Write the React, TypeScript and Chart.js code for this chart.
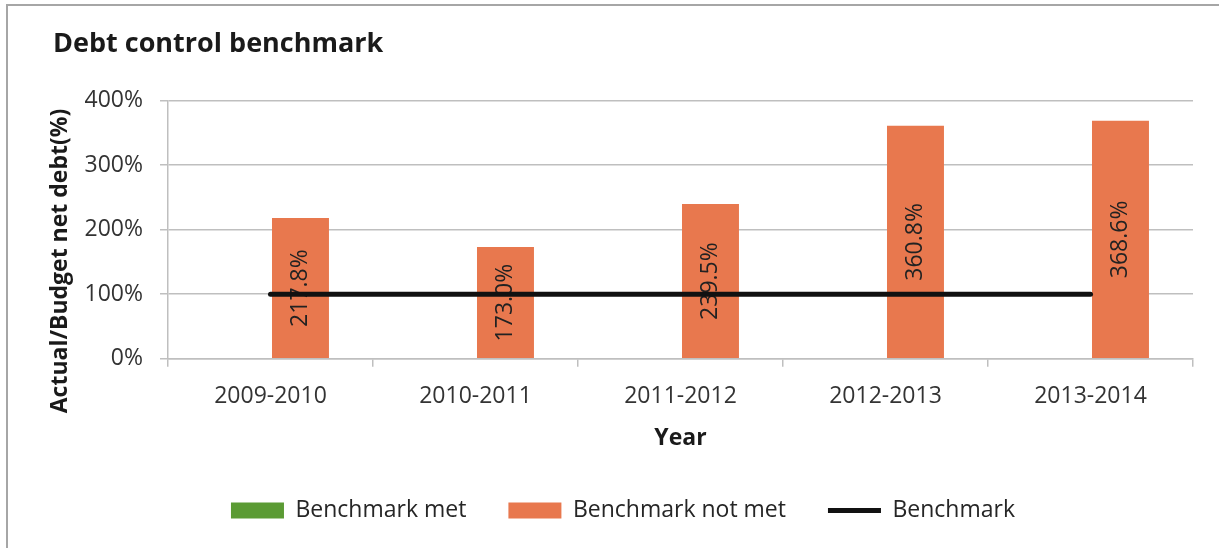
import React, { useEffect, useRef } from "react";
import { Chart, registerables } from "chart.js";

Chart.register(...registerables);

const categories = ["2009-2010", "2010-2011", "2011-2012", "2012-2013", "2013-2014"];
const benchmarkMet: (number | null)[] = [null, null, null, null, null];
const benchmarkNotMet = [217.8, 173.0, 239.5, 360.8, 368.6];
const benchmark = [100, 100, 100, 100, 100];
const yTicks = [0, 100, 200, 300, 400];

const chartTitle = "Debt control benchmark";
const yTitle = "Actual/Budget net debt(%)";
const xTitle = "Year";

const FONT = "'Open Sans', 'Noto Sans', sans-serif";

export default function App() {
  const ref = useRef<HTMLCanvasElement | null>(null);

  useEffect(() => {
    if (!ref.current) return;

    const framePlugin = {
      id: "frame",
      beforeDraw(chart: any) {
        const ctx = chart.ctx;
        ctx.save();
        ctx.fillStyle = "#ffffff";
        ctx.fillRect(0, 0, chart.width, chart.height);
        ctx.strokeStyle = "#a6a6a6";
        ctx.lineWidth = 2;
        ctx.beginPath();
        ctx.moveTo(7, chart.height);
        ctx.lineTo(7, 5);
        ctx.lineTo(chart.width, 5);
        ctx.stroke();
        ctx.restore();
      },
      afterDraw(chart: any) {
        const ctx = chart.ctx;
        ctx.save();
        ctx.translate(60, 261);
        ctx.rotate(-Math.PI / 2);
        ctx.font = `bold 23px ${FONT}`;
        ctx.fillStyle = "#1a1a1a";
        ctx.textAlign = "center";
        ctx.textBaseline = "middle";
        ctx.fillText(yTitle, 0, 0);
        ctx.restore();
      },
    };

    const labelPlugin = {
      id: "barLabels",
      afterDatasetDraw(chart: any, args: any) {
        if (args.index !== 1) return;
        const ctx = chart.ctx;
        const meta = chart.getDatasetMeta(1);
        const ds = chart.data.datasets[1];
        ctx.save();
        ctx.font = `23px ${FONT}`;
        ctx.fillStyle = "#222222";
        ctx.textAlign = "center";
        ctx.textBaseline = "middle";
        meta.data.forEach((bar: any, i: number) => {
          const v = ds.data[i];
          if (v == null) return;
          const cx = bar.x;
          const cy = (bar.y + bar.base) / 2;
          ctx.save();
          ctx.translate(cx, cy);
          ctx.rotate(-Math.PI / 2);
          ctx.fillText(`${Number(v).toFixed(1)}%`, 0, 0);
          ctx.restore();
        });
        ctx.restore();
      },
    };

    const chart = new Chart(ref.current, {
      type: "bar",
      data: {
        labels: categories,
        datasets: [
          {
            type: "bar",
            label: "Benchmark met",
            data: benchmarkMet,
            backgroundColor: "#5b9b34",
            borderWidth: 0,
            pointStyle: "rect",
            order: 1,
            categoryPercentage: 0.585,
            barPercentage: 0.95,
          } as any,
          {
            type: "bar",
            label: "Benchmark not met",
            data: benchmarkNotMet,
            backgroundColor: "#e8784e",
            borderWidth: 0,
            pointStyle: "rect",
            order: 1,
            categoryPercentage: 0.585,
            barPercentage: 0.95,
          } as any,
          {
            type: "line",
            label: "Benchmark",
            data: benchmark,
            borderColor: "#111111",
            backgroundColor: "#111111",
            borderWidth: 5,
            borderCapStyle: "round",
            pointRadius: 0,
            pointHoverRadius: 0,
            pointStyle: "line",
            order: 0,
            fill: false,
          } as any,
        ],
      },
      options: {
        animation: false,
        responsive: true,
        maintainAspectRatio: false,
        layout: { padding: { top: 18, left: 53, right: 26, bottom: 16 } },
        font: { family: FONT },
        plugins: {
          title: {
            display: true,
            text: chartTitle,
            align: "start",
            color: "#1a1a1a",
            font: { family: FONT, size: 27, weight: "bold" },
            padding: { top: 10, bottom: 40 },
          },
          legend: {
            position: "bottom",
            labels: {
              usePointStyle: true,
              pointStyleWidth: 53,
              boxHeight: 16,
              padding: 42,
              color: "#262626",
              font: { family: FONT, size: 23 },
              sort: (a: any, b: any) => a.datasetIndex - b.datasetIndex,
            },
          },
          tooltip: { enabled: false },
        },
        scales: {
          x: {
            grid: {
              display: true,
              drawOnChartArea: false,
              drawTicks: true,
              tickLength: 8,
              color: "#bfbfbf",
              lineWidth: 1.5,
            },
            border: { display: true, color: "#bfbfbf", width: 1.5 },
            ticks: {
              color: "#333333",
              padding: 16,
              font: { family: FONT, size: 23 },
              maxRotation: 0,
            },
            title: {
              display: true,
              text: xTitle,
              color: "#1a1a1a",
              font: { family: FONT, size: 23, weight: "bold" },
              padding: { top: -2, bottom: 5 },
            },
          },
          y: {
            min: 0,
            max: 400,
            afterFit: (scale: any) => {
              scale.width = 115;
            },
            afterBuildTicks: (scale: any) => {
              scale.ticks = yTicks.map((v) => ({ value: v }));
            },
            grid: {
              color: "#bfbfbf",
              lineWidth: 1.5,
              tickLength: 8,
              drawTicks: true,
            },
            border: { display: true, color: "#bfbfbf", width: 1.5 },
            ticks: {
              color: "#333333",
              padding: 17,
              font: { family: FONT, size: 23 },
              callback: (v: any) => `${v}%`,
            },
            title: { display: false },
          },
        },
      } as any,
      plugins: [framePlugin, labelPlugin],
    });

    return () => chart.destroy();
  }, []);

  return (
    <div style={{ position: "fixed", left: 0, top: 0, width: 1219, height: 548, background: "#fff" }}>
      <canvas ref={ref} />
    </div>
  );
}
